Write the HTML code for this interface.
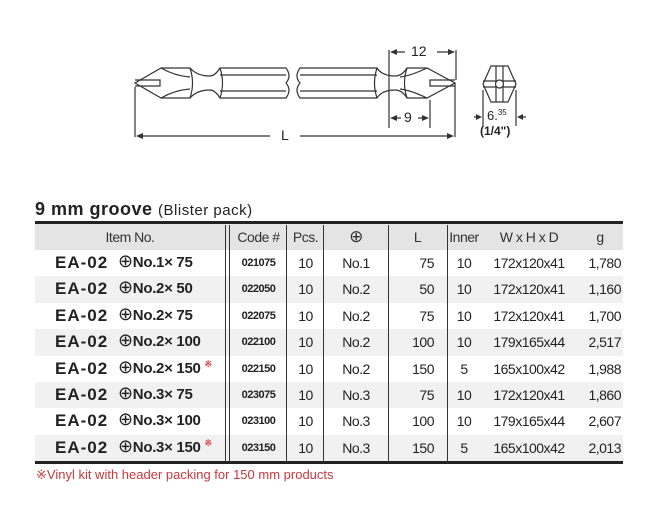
<!DOCTYPE html><html><head><style>
body{margin:0;width:663px;height:509px;background:#fff;position:relative;overflow:hidden;font-family:"Liberation Sans",sans-serif;color:#222}
.a{position:absolute}
.r{position:absolute;left:35px;width:588px;height:26.4px}
.c{position:absolute;top:0;height:26.4px;line-height:26.4px;font-size:14px;text-align:center;letter-spacing:-0.5px;white-space:nowrap}
.v{position:absolute;top:225px;height:237px;border-left:1px solid #333}
.s{position:relative;top:-6px;color:#d44;font-size:9px;line-height:0}
.p{font-weight:normal;font-size:18px;line-height:0}
</style></head><body>
<svg class="a" style="left:0;top:0" width="663" height="180" viewBox="0 0 663 180" fill="none" stroke="#333" stroke-width="1.2">
<path d="M135 83 L161 68 L190 68 Q197 76 210 76 Q215 76 220 68 L286 68 Q292 76 286 83 Q292 90 286 98 L220 98 Q215 90 210 90 Q197 90 190 98 L161 98 Z"/>
<path d="M135 80 L160 80 L160 86 L135 86"/>
<path d="M161 68 Q175 76 190 77 M161 98 Q175 90 190 89 M190 68 Q195 83 190 98 M220 68 Q225 83 220 98"/>
<path d="M220 75 L286 75 M220 91 L286 91"/>
<path d="M300 68 L377 68 Q382 76 395 76 Q402 76 407 68 L427 68 L455 83 L427 98 L407 98 Q402 90 395 90 Q382 90 377 98 L300 98 Q294 90 300 83 Q294 76 300 68 Z"/>
<path d="M455 80 L430 80 L430 86 L455 86 M427 68 Q410 76 400 77 M427 98 Q410 90 400 89 M377 68 Q372 83 377 98 M407 68 Q402 83 407 98"/>
<path d="M300 75 L377 75 M300 91 L377 91"/>
<path d="M135 87 L135 137 M455 83 L455 137 M389 50 L389 128 M430 100 L430 128 M456 50 L456 80"/>
<path d="M139 136 L270 136 M300 136 L451 136 M393 52 L405 52 M437 52 L452 52 M393 118 L401 118 M418 118 L426 118"/>
<path d="M491 66 L508 66 L516 84 L508 102 L491 102 L483 84 Z M496 66 L496 102 M503 66 L503 102 M483 81 L516 81 M483 87 L516 87"/>
<circle cx="499.5" cy="84" r="4" fill="#fff"/>
<path d="M483 90 L483 126 M516 90 L516 126 M474 117 L480 117 M519 117 L526 117"/>
<g fill="#333" stroke="none">
<path d="M136 136 L143 133 L143 139Z M454 136 L447 133 L447 139Z M390 52 L397 49 L397 55Z M455 52 L448 49 L448 55Z M390 118 L397 115 L397 121Z M429 118 L422 115 L422 121Z M482 117 L476 114 L476 120Z M517 117 L523 114 L523 120Z"/>
</g>
</svg>
<div class="a" style="left:411px;top:43px;font-size:14px">12</div>
<div class="a" style="left:404px;top:109px;font-size:14px">9</div>
<div class="a" style="left:281px;top:127px;font-size:14px">L</div>
<div class="a" style="left:487px;top:108px;font-size:13px">6.<span style="font-size:8px;position:relative;top:-5px">35</span></div>
<div class="a" style="left:480px;top:124px;font-size:12px;font-weight:bold">(1/4")</div>
<div class="a" style="left:35px;top:199px;font-size:18px;font-weight:bold;letter-spacing:0.5px">9 mm groove <span style="font-weight:normal;font-size:15px">(Blister pack)</span></div>
<div class="a" style="left:35px;top:221px;width:588px;height:3px;background:#222"></div>
<div class="a" style="left:35px;top:224px;width:588px;height:26px;background:#e4e4e4"></div>
<div class="a" style="left:35px;top:276.4px;width:588px;height:26.4px;background:#f1f1f1"></div>
<div class="a" style="left:35px;top:329.2px;width:588px;height:26.4px;background:#f1f1f1"></div>
<div class="a" style="left:35px;top:382px;width:588px;height:26.4px;background:#f1f1f1"></div>
<div class="a" style="left:35px;top:434.8px;width:588px;height:26.4px;background:#f1f1f1"></div>
<div class="a" style="left:35px;top:461px;width:588px;height:3px;background:#222"></div>
<div class="v" style="left:225px"></div><div class="v" style="left:229px"></div><div class="v" style="left:286px"></div><div class="v" style="left:323px"></div><div class="v" style="left:388px"></div><div class="v" style="left:447px"></div>
<div class="r" style="top:224px;color:#333">
<div class="c" style="left:0;width:190px">Item No.</div><div class="c" style="left:195px;width:57px">Code #</div><div class="c" style="left:252px;width:37px">Pcs.</div><div class="c" style="left:289px;width:64px;font-size:17px">⊕</div><div class="c" style="left:353px;width:59px">L</div><div class="c" style="left:412px;width:34px">Inner</div><div class="c" style="left:446px;width:96px">W x H x D</div><div class="c" style="left:542px;width:46px">g</div></div>
<div id="rows"></div>
<script>
var d=[["1","75","021075","No.1","10","172x120x41","1,780",0],["2","50","022050","No.2","10","172x120x41","1,160",0],["2","75","022075","No.2","10","172x120x41","1,700",0],["2","100","022100","No.2","10","179x165x44","2,517",0],["2","150","022150","No.2","5","165x100x42","1,988",1],["3","75","023075","No.3","10","172x120x41","1,860",0],["3","100","023100","No.3","10","179x165x44","2,607",0],["3","150","023150","No.3","5","165x100x42","2,013",1]];
var h="";d.forEach(function(r,i){var t=250+i*26.4;h+='<div class="r" style="top:'+t+'px"><div class="c" style="left:20px;font-size:17px;font-weight:bold;letter-spacing:1px">EA-02</div><div class="c" style="left:83px;font-size:15px;font-weight:bold;letter-spacing:-0.3px"><span class="p">⊕</span>No.'+r[0]+'× '+r[1]+(r[7]?' <span class="s">※</span>':'')+'</div><div class="c" style="left:195px;width:57px;font-size:11px;font-weight:bold">'+r[2]+'</div><div class="c" style="left:252px;width:37px">10</div><div class="c" style="left:289px;width:64px">'+r[3]+'</div><div class="c" style="left:353px;width:46px;text-align:right">'+r[1]+'</div><div class="c" style="left:412px;width:34px">'+r[4]+'</div><div class="c" style="left:446px;width:96px">'+r[5]+'</div><div class="c" style="left:542px;width:44px;text-align:right">'+r[6]+'</div></div>'});
document.getElementById("rows").innerHTML=h;
</script>
<div class="a" style="left:36px;top:467px;font-size:13px;color:#c8383c">※Vinyl kit with header packing for 150 mm products</div>
</body></html>
